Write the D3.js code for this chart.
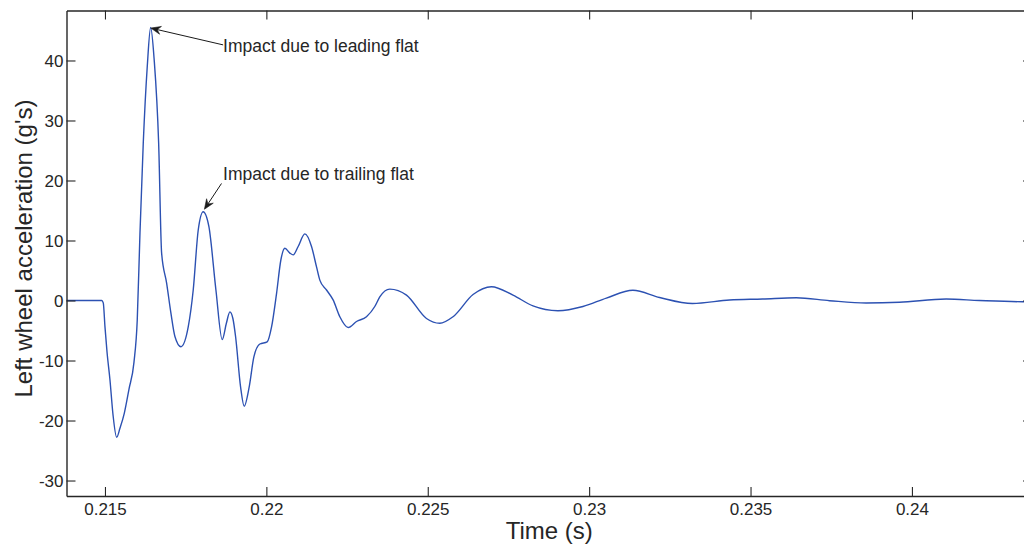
<!DOCTYPE html>
<html>
<head>
<meta charset="utf-8">
<script src="https://cdn.jsdelivr.net/npm/d3@7"></script>
<style>
  html, body { margin: 0; padding: 0; background: #fff; }
  svg { display: block; font-family: "Liberation Sans", Arial, Helvetica, sans-serif; }
</style>
</head>
<body>
<svg id="chart" width="1024" height="546"></svg>
<script>
// ---- data ----
const time = [
  0.2138, 0.2147, 0.214898, 0.214947, 0.215, 0.215062, 0.215155, 0.215248, 0.215362, 0.215464,
  0.215598, 0.215743, 0.215898, 0.216, 0.216084, 0.216186, 0.21631, 0.216415, 0.216526, 0.216663,
  0.216755, 0.21691, 0.217043, 0.217167, 0.217353, 0.217579, 0.217734, 0.217889, 0.218043, 0.21822,
  0.218437, 0.218632, 0.218761, 0.21887, 0.218963, 0.219046, 0.219201, 0.219313, 0.219468, 0.219613,
  0.219799, 0.220025, 0.220161, 0.220316, 0.220449, 0.220573, 0.220728, 0.22083, 0.220985, 0.221192,
  0.221399, 0.221554, 0.221656, 0.221864, 0.222068, 0.222276, 0.222533, 0.222793, 0.223102, 0.223359,
  0.223514, 0.223824, 0.224341, 0.22496, 0.225372, 0.225784, 0.226403, 0.226972, 0.227641, 0.22826,
  0.229034, 0.229808, 0.230533, 0.231356, 0.232183, 0.2332, 0.23435, 0.235372, 0.236415, 0.237446,
  0.238582, 0.239613, 0.241059, 0.24209, 0.243421, 0.2437
];
const accel = [
  0, 0, 0, -0.4, -4.4, -8.5, -13.25, -19, -22.8, -21.3,
  -18.8, -14.8, -10.3, -3.25, 11.2, 26.2, 39, 45.5, 40, 26.2,
  7.9, 2.9, -2.1, -6.0, -7.7, -4.4, 1.75, 11.75, 14.8, 12.3,
  1.75, -6.5, -3.8, -1.9, -3.0, -6.0, -14.4, -17.6, -14.4, -9.4,
  -7.25, -6.9, -4.4, 1.2, 6.75, 8.7, 7.9, 7.6, 9.0, 11.1,
  9.0, 5.6, 3.4, 1.75, 0.1, -2.7, -4.5, -3.5, -2.7, -1.0,
  0.6, 1.9, 0.9, -3.0, -3.8, -2.7, 1.0, 2.3, 0.9, -0.9,
  -1.7, -1.0, 0.4, 1.7, 0.5, -0.5, 0.08, 0.25, 0.47, -0.03,
  -0.42, -0.3, 0.25, 0.0, -0.2, -0.2
];
const xTicks = [0.215, 0.22, 0.225, 0.23, 0.235, 0.24];
const xTickLabels = ["0.215", "0.22", "0.225", "0.23", "0.235", "0.24"];
const yTicks = [-30, -20, -10, 0, 10, 20, 30, 40];
const yTickLabels = ["-30", "-20", "-10", "0", "10", "20", "30", "40"];
const annotationText = ["Impact due to leading flat", "Impact due to trailing flat"];
const annotationTip = [[0.21642, 45.4], [0.21808, 15.2]];   // arrow tip (data)
const annotationTail = [[0.21866, 42.6], [0.21861, 19.5]];  // arrow tail (data)
const annotationLabel = [[0.21866, 42.4], [0.21866, 21.1]]; // text anchor (data)

// ---- layout ----
const svg = d3.select("#chart");
const L = 66.5, R = 1032, T = 10.5, B = 496;
const x = d3.scaleLinear().domain([0.213808, 0.24372]).range([L, R]);
const y = d3.scaleLinear().domain([-32.58, 48.33]).range([B, T]);
const axisColor = "#262626";
const textColor = "#262626";

svg.append("defs").append("clipPath").attr("id", "clip")
  .append("rect").attr("x", L).attr("y", T).attr("width", R - L).attr("height", B - T);

// curve
const line = d3.line().x((d, i) => x(time[i])).y((d, i) => y(accel[i])).curve(d3.curveMonotoneX);
svg.append("path")
  .attr("clip-path", "url(#clip)")
  .attr("d", line(accel))
  .attr("fill", "none")
  .attr("stroke", "#2c51b2")
  .attr("stroke-width", 1.4)
  .attr("stroke-linejoin", "round");

// axes (MATLAB-style box with inward ticks)
const tickLen = 9;
const gBottom = svg.append("g").attr("transform", `translate(0,${B})`)
  .call(d3.axisBottom(x).tickValues(xTicks).tickFormat((d, i) => xTickLabels[i]).tickSizeInner(-tickLen).tickSizeOuter(0));
const gTop = svg.append("g").attr("transform", `translate(0,${T})`)
  .call(d3.axisTop(x).tickValues(xTicks).tickFormat("").tickSizeInner(-tickLen).tickSizeOuter(0));
const gLeft = svg.append("g").attr("transform", `translate(${L},0)`)
  .call(d3.axisLeft(y).tickValues(yTicks).tickFormat((d, i) => yTickLabels[i]).tickSizeInner(-tickLen).tickSizeOuter(0));
const gRight = svg.append("g").attr("transform", `translate(${R},0)`)
  .call(d3.axisRight(y).tickValues(yTicks).tickFormat("").tickSizeInner(-tickLen).tickSizeOuter(0));

[gBottom, gTop, gLeft, gRight].forEach(g => {
  g.select(".domain").attr("stroke", axisColor).attr("stroke-width", 1.4);
  g.selectAll(".tick line").attr("stroke", axisColor).attr("stroke-width", 1.1);
  g.selectAll(".tick text").attr("fill", textColor).style("font-size", "17px")
    .style("font-family", "'Liberation Sans', Arial, sans-serif");
});
gBottom.selectAll(".tick text").attr("y", 7).attr("dy", "0.71em");
gLeft.selectAll(".tick text").attr("x", -3).attr("dy", "0.35em");

// axis labels
svg.append("text")
  .attr("x", (L + R) / 2).attr("y", 539)
  .attr("text-anchor", "middle")
  .attr("fill", textColor)
  .style("font-size", "24px")
  .text("Time (s)");
svg.append("text")
  .attr("transform", `translate(32,${248.5}) rotate(-90)`)
  .attr("text-anchor", "middle")
  .attr("fill", textColor)
  .style("font-size", "24px")
  .text("Left wheel acceleration (g's)");

// annotations
const ann = svg.append("g");
annotationText.forEach((t, i) => {
  const [tx, ty] = annotationTip[i];
  const [sx, sy] = annotationTail[i];
  const x1 = x(sx), y1 = y(sy), x2 = x(tx), y2 = y(ty);
  const ang = Math.atan2(y2 - y1, x2 - x1);
  const hl = 10, hw = 4;
  ann.append("line")
    .attr("x1", x1).attr("y1", y1)
    .attr("x2", x2 - Math.cos(ang) * 6).attr("y2", y2 - Math.sin(ang) * 6)
    .attr("stroke", "#1a1a1a").attr("stroke-width", 1);
  const bx = x2 - Math.cos(ang) * hl, by = y2 - Math.sin(ang) * hl;
  const nx = x2 - Math.cos(ang) * (hl * 0.65), ny = y2 - Math.sin(ang) * (hl * 0.65);
  const px = -Math.sin(ang) * hw, py = Math.cos(ang) * hw;
  ann.append("path")
    .attr("d", `M${x2},${y2}L${bx + px},${by + py}L${nx},${ny}L${bx - px},${by - py}Z`)
    .attr("fill", "#1a1a1a").attr("stroke", "#1a1a1a").attr("stroke-width", 0.6);
  ann.append("text")
    .attr("x", x(annotationLabel[i][0]))
    .attr("y", y(annotationLabel[i][1]))
    .attr("dy", "0.35em")
    .attr("fill", textColor)
    .style("font-size", "17.5px")
    .text(t);
});
</script>
</body>
</html>
